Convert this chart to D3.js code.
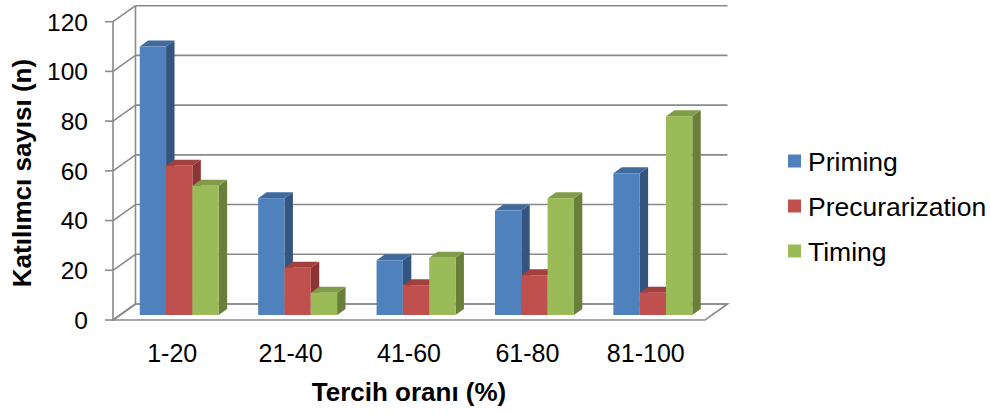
<!DOCTYPE html>
<html>
<head>
<meta charset="utf-8">
<script src="https://cdn.jsdelivr.net/npm/d3@7"></script>
<style>
  html, body { margin: 0; padding: 0; background: #fff; }
  svg { display: block; font-family: "Liberation Sans", Arial, sans-serif; }
</style>
</head>
<body>
<svg id="chart" width="990" height="413"></svg>
<script>
// Participants per preference range, per technique
const categories = ["1-20", "21-40", "41-60", "61-80", "81-100"];
const seriesNames = ["Priming", "Precurarization", "Timing"];
const priming = [108, 47, 22, 42, 57];
const precurarization = [60, 19, 12, 16, 9];
const timing = [52, 9, 23, 47, 80];
const yTicks = [0, 20, 40, 60, 80, 100, 120];

const seriesValues = [priming, precurarization, timing];
const colors = {
  Priming:         { front: "#4F81BD", side: "#34557F", top: "#3E6A9E" },
  Precurarization: { front: "#C0504D", side: "#8A3533", top: "#A2403D" },
  Timing:          { front: "#9BBB59", side: "#6A7F3A", top: "#819C48" }
};

const svg = d3.select("#chart");

// 3D projection: depth z in [0,1] shifts points right and up
const DEPTH_X = 22.5, DEPTH_Y = 16;
const plotLeft = 113, plotRight = 705;
const y = d3.scaleLinear().domain([0, 120]).range([320, 21.7]);
const x0 = d3.scaleBand().domain(categories).range([plotLeft, plotRight]).paddingInner(0).paddingOuter(0);
const x1 = d3.scaleBand().domain(seriesNames).range([0, x0.bandwidth()]).paddingInner(0).paddingOuter(0.75);
const px = (xv, z) => xv + z * DEPTH_X;
const py = (yv, z) => yv - z * DEPTH_Y;

const grid = svg.append("g").attr("fill", "none").attr("stroke", "#8a8a8a").attr("stroke-width", 1.6);

// Floor
grid.append("path")
  .attr("fill", "#fff")
  .attr("d", `M${px(plotLeft,0)},${py(y(0),0)} L${px(plotRight,0)},${py(y(0),0)} L${px(plotRight,1)},${py(y(0),1)} L${px(plotLeft,1)},${py(y(0),1)} Z`);

// Back wall gridlines and side wall diagonals
yTicks.forEach(t => {
  grid.append("line")
    .attr("x1", px(plotLeft, 1)).attr("y1", py(y(t), 1))
    .attr("x2", px(plotRight, 1)).attr("y2", py(y(t), 1));
  grid.append("line")
    .attr("x1", px(plotLeft, 0)).attr("y1", py(y(t), 0))
    .attr("x2", px(plotLeft, 1)).attr("y2", py(y(t), 1));
});
// Back wall left edge
grid.append("line")
  .attr("x1", px(plotLeft, 1)).attr("y1", py(y(0), 1))
  .attr("x2", px(plotLeft, 1)).attr("y2", py(y(120), 1));

// Front value axis with ticks
grid.append("line")
  .attr("x1", plotLeft).attr("y1", y(0))
  .attr("x2", plotLeft).attr("y2", y(120));
yTicks.forEach(t => {
  grid.append("line")
    .attr("x1", plotLeft - 8).attr("y1", y(t))
    .attr("x2", plotLeft).attr("y2", y(t));
});

svg.append("g").selectAll("text").data(yTicks).join("text")
  .attr("x", 88).attr("y", d => y(d)).attr("dy", "0.36em")
  .attr("text-anchor", "end").attr("font-size", 24.5).attr("fill", "#000")
  .text(d => d);

// Bars as 3D boxes: front face, top, right side
const zFront = 0.3125, zBack = 0.6875;
const bars = svg.append("g");
categories.forEach((cat, ci) => {
  seriesNames.forEach((s, si) => {
    const v = seriesValues[si][ci];
    const xl = x0(cat) + x1(s), xr = xl + x1.bandwidth();
    const yt = y(v), yb = y(0);
    const c = colors[s];
    const g = bars.append("g");
    // right side
    g.append("path").attr("fill", c.side)
      .attr("d", `M${px(xr,zFront)},${py(yb,zFront)} L${px(xr,zFront)},${py(yt,zFront)} L${px(xr,zBack)},${py(yt,zBack)} L${px(xr,zBack)},${py(yb,zBack)} Z`);
    // top
    g.append("path").attr("fill", c.top)
      .attr("d", `M${px(xl,zFront)},${py(yt,zFront)} L${px(xr,zFront)},${py(yt,zFront)} L${px(xr,zBack)},${py(yt,zBack)} L${px(xl,zBack)},${py(yt,zBack)} Z`);
    // front
    g.append("rect").attr("fill", c.front)
      .attr("x", px(xl, zFront)).attr("y", py(yt, zFront))
      .attr("width", xr - xl).attr("height", yb - yt);
  });
});

// Category labels
svg.append("g").selectAll("text").data(categories).join("text")
  .attr("x", d => x0(d) + x0.bandwidth() / 2).attr("y", 362)
  .attr("text-anchor", "middle").attr("font-size", 25).attr("fill", "#000")
  .text(d => d);

// Axis titles
svg.append("text")
  .attr("x", (plotLeft + plotRight) / 2).attr("y", 401)
  .attr("text-anchor", "middle").attr("font-size", 26).attr("font-weight", "bold")
  .text("Tercih oranı (%)");
svg.append("text")
  .attr("transform", "translate(31,173) rotate(-90)")
  .attr("text-anchor", "middle").attr("font-size", 26).attr("font-weight", "bold")
  .text("Katılımcı sayısı (n)");

// Legend
const legend = svg.append("g").selectAll("g").data(seriesNames).join("g")
  .attr("transform", (d, i) => `translate(788,${161 + i * 45})`);
legend.append("rect").attr("x", 0).attr("y", -6.5).attr("width", 13).attr("height", 13)
  .attr("fill", d => colors[d].front);
legend.append("text").attr("x", 20).attr("dy", "0.36em")
  .attr("font-size", 26.5).attr("fill", "#000")
  .text(d => d);
</script>
</body>
</html>
